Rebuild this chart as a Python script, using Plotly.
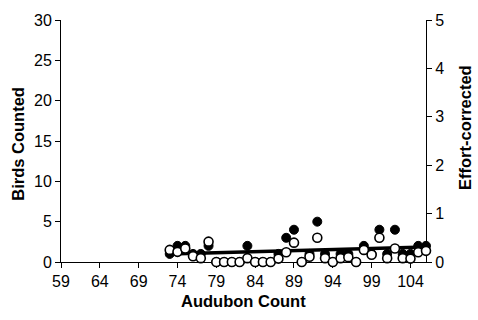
import plotly.graph_objects as go

years = list(range(73, 107))
birds_counted = [1, 2, 2, 1, 1, 2, 0, 0, 0, 0, 2, 0, 0, 0, 1, 3, 4, 0, 1, 5,
                 1, 0, 1, 1, 0, 2, 1, 4, 1, 4, 1, 1, 2, 2]
effort_corrected = [0.25, 0.21, 0.28, 0.12, 0.08, 0.42, 0, 0, 0, 0, 0.08, 0, 0, 0,
                    0.07, 0.20, 0.40, 0, 0.11, 0.50, 0.08, 0, 0.08, 0.10, 0, 0.25,
                    0.15, 0.50, 0.08, 0.28, 0.08, 0.07, 0.20, 0.23]
trend_x = [73, 106]
trend_y = [1.0, 1.85]

x_ticks = [59, 64, 69, 74, 79, 84, 89, 94, 99, 104]
left_ticks = [0, 5, 10, 15, 20, 25, 30]
right_ticks = [0, 1, 2, 3, 4, 5]

FONT = "Liberation Sans, Arial, sans-serif"
TICK_SIZE = 16
TITLE_SIZE = 16.5

fig = go.Figure()
fig.add_trace(go.Scatter(
    x=years, y=birds_counted, mode="markers", name="Birds Counted",
    marker=dict(symbol="circle", size=9, color="black",
                line=dict(color="black", width=1)),
    cliponaxis=False, yaxis="y"))
fig.add_trace(go.Scatter(
    x=years, y=effort_corrected, mode="markers", name="Effort-corrected",
    marker=dict(symbol="circle", size=9, color="white",
                line=dict(color="black", width=1.6)),
    cliponaxis=False, yaxis="y2"))
fig.add_trace(go.Scatter(
    x=trend_x, y=trend_y, mode="lines", name="Trend",
    line=dict(color="black", width=3.5), yaxis="y"))

axis_common = dict(showgrid=False, zeroline=False, showline=True,
                   linecolor="black", linewidth=1, ticks="outside",
                   ticklen=5, tickwidth=1, tickcolor="black",
                   tickfont=dict(family=FONT, size=TICK_SIZE, color="black"))

fig.update_layout(
    width=478, height=320,
    margin=dict(l=61, r=52, t=13, b=58),
    paper_bgcolor="white", plot_bgcolor="white",
    showlegend=False,
    font=dict(family=FONT, size=TICK_SIZE, color="black"),
    xaxis=dict(range=[59, 106], tickvals=x_ticks, layer="below traces",
               **axis_common),
    yaxis=dict(range=[0, 30], tickvals=left_ticks, layer="below traces",
               **axis_common),
    yaxis2=dict(range=[0, 5], tickvals=right_ticks, overlaying="y",
                side="right", layer="below traces", **axis_common),
    annotations=[
        dict(text="<b>Audubon Count</b>", xref="paper", yref="paper",
             x=0.5, y=-0.162, xanchor="center", yanchor="middle",
             showarrow=False, font=dict(family=FONT, size=TITLE_SIZE)),
        dict(text="<b>Birds Counted</b>", xref="paper", yref="paper",
             x=-0.117, y=0.49, xanchor="center", yanchor="middle",
             textangle=-90, showarrow=False, font=dict(family=FONT, size=TITLE_SIZE)),
        dict(text="<b>Effort-corrected</b>", xref="paper", yref="paper",
             x=1.107, y=0.554, xanchor="center", yanchor="middle",
             textangle=-90, showarrow=False, font=dict(family=FONT, size=TITLE_SIZE)),
    ],
)

fig.write_html("out.html", config={"displayModeBar": False},
               post_script="document.body.style.margin='0';document.body.style.overflow='hidden';")
